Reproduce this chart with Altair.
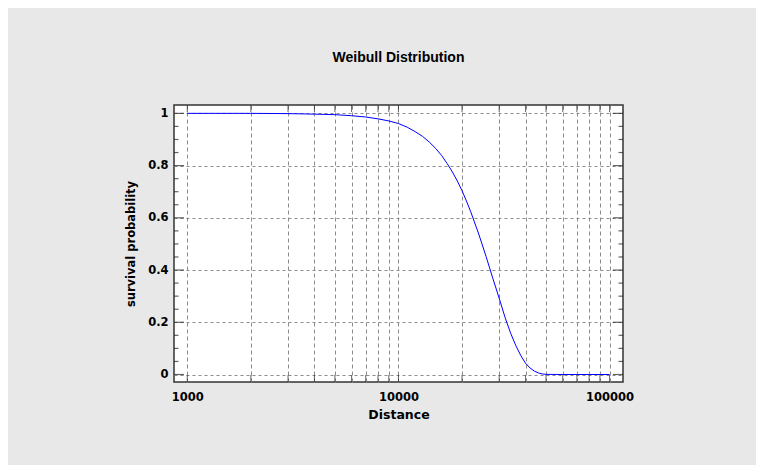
import altair as alt
import pandas as pd

# Curve points
distance = [1000, 2000, 3000, 3500, 4000, 5000, 6000, 7000, 8000, 9000, 10000,
            11000, 12000, 13000, 14000, 15000, 16000, 17000, 18000, 19000, 20000,
            21000, 22000, 24000, 26000, 28000, 30000, 32000, 34000, 36000, 38000,
            40000, 42000, 44000, 46000, 48000, 50000, 60000, 80000, 100000]
survival = [1.0, 1.0, 0.999, 0.998, 0.997, 0.995, 0.991, 0.986, 0.979, 0.971, 0.961,
            0.947, 0.930, 0.912, 0.890, 0.866, 0.839, 0.808, 0.776, 0.741, 0.704,
            0.664, 0.623, 0.538, 0.452, 0.368, 0.292, 0.218, 0.158, 0.110, 0.072,
            0.043, 0.025, 0.013, 0.006, 0.002, 0.0005, 0.0, 0.0, 0.0]

x_ticks = [1000, 2000, 3000, 4000, 5000, 6000, 7000, 8000, 9000,
           10000, 20000, 30000, 40000, 50000, 60000, 70000, 80000, 90000, 100000]
x_labels = [1000, 10000, 100000]
y_major = [0, 0.2, 0.4, 0.6, 0.8, 1.0]
y_minor = [0.05, 0.1, 0.15, 0.25, 0.3, 0.35, 0.45, 0.5, 0.55, 0.65, 0.7, 0.75, 0.85, 0.9, 0.95]

x_domain = [865, 115750]
y_domain = [-0.0287, 1.032]

df = pd.DataFrame({"Distance": distance, "S": survival})

xs = alt.Scale(type="log", domain=x_domain, nice=False)
ys = alt.Scale(domain=y_domain, nice=False, zero=False)

label_test = " || ".join(f"datum.value == {v}" for v in x_labels)

grid_font = "DejaVu Sans"

line = alt.Chart(df).mark_line(color="#0000ff", strokeWidth=1, clip=True).encode(
    x=alt.X("Distance:Q", scale=xs,
            axis=alt.Axis(values=x_ticks, format="d",
                          labelExpr=f"({label_test}) ? datum.label : ''",
                          ticks=False, domain=False, grid=True,
                          gridColor="#8c8c8c", gridDash=[4, 3], gridWidth=1,
                          labelFont=grid_font, labelFontWeight="bold", labelFontSize=11.5,
                          labelColor="#000000", labelPadding=9,
                          title="Distance", titleFont=grid_font, titleFontWeight="bold",
                          titleFontSize=12.5, titleColor="#000000", titlePadding=6)),
    y=alt.Y("S:Q", scale=ys,
            axis=alt.Axis(values=y_major, format="~g",
                          ticks=False, domain=False, grid=True,
                          gridColor="#8c8c8c", gridDash=[3, 3], gridWidth=1,
                          labelFont=grid_font, labelFontWeight="bold", labelFontSize=11.5,
                          labelColor="#000000", labelPadding=6,
                          title="survival probability", titleFont=grid_font,
                          titleFontWeight="bold", titleFontSize=11.5,
                          titleColor="#000000", titlePadding=11)),
)

# inward ticks on all four sides (clipped half ticks)
bottom_df = pd.DataFrame({"Distance": x_ticks, "S": [y_domain[0]] * len(x_ticks)})
top_df = pd.DataFrame({"Distance": x_ticks, "S": [y_domain[1]] * len(x_ticks)})
left_major = pd.DataFrame({"Distance": [x_domain[0]] * len(y_major), "S": y_major})
right_major = pd.DataFrame({"Distance": [x_domain[1]] * len(y_major), "S": y_major})
left_minor = pd.DataFrame({"Distance": [x_domain[0]] * len(y_minor), "S": y_minor})
right_minor = pd.DataFrame({"Distance": [x_domain[1]] * len(y_minor), "S": y_minor})

def vticks(d):
    return alt.Chart(d).mark_tick(orient="vertical", size=14, thickness=1,
                                  color="#222222", clip=True).encode(
        x=alt.X("Distance:Q", scale=xs), y=alt.Y("S:Q", scale=ys))

def hticks(d, size):
    return alt.Chart(d).mark_tick(orient="horizontal", size=size, thickness=1.2,
                                  color="#222222", clip=True).encode(
        x=alt.X("Distance:Q", scale=xs), y=alt.Y("S:Q", scale=ys))

chart = alt.layer(
    line,
    vticks(bottom_df), vticks(top_df),
    hticks(left_major, 20), hticks(right_major, 20),
    hticks(left_minor, 9), hticks(right_minor, 9),
).properties(
    width=449, height=277,
    title=alt.TitleParams("Weibull Distribution", font="Liberation Sans",
                          fontWeight="bold", fontSize=14, color="#000000",
                          anchor="middle", offset=40),
    background="#e8e8e8",
    padding={"left": 166, "top": 97, "right": 133, "bottom": 83},
    autosize=alt.AutoSizeParams(type="none"),
).configure_view(
    fill="#ffffff", stroke="#333333", strokeWidth=1.5
)

chart.save("out.html", embed_options={"renderer": "svg", "actions": False})
